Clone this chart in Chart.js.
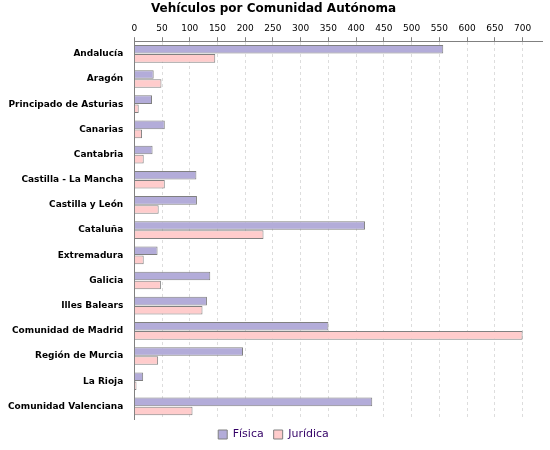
<!DOCTYPE html><html><head><script src="https://cdn.jsdelivr.net/npm/chart.js"></script>
<style>body{margin:0;background:#fff}</style></head><body><canvas id="c" width="550" height="450"></canvas>
<script>
const categories=["Andalucía","Aragón","Principado de Asturias","Canarias","Cantabria","Castilla - La Mancha","Castilla y León","Cataluña","Extremadura","Galicia","Illes Balears","Comunidad de Madrid","Región de Murcia","La Rioja","Comunidad Valenciana"];
const fisica=[557,35,32,55,33,112,113,416,42,137,131,350,196,16,429];
const juridica=[146,49,8,14,17,55,44,233,17,48,123,700,43,4,105];
new Chart(document.getElementById('c'),{type:'bar',data:{labels:categories,datasets:[
{label:'Física',data:fisica,backgroundColor:'#b3acd9',borderColor:'#808080',borderWidth:1},
{label:'Jurídica',data:juridica,backgroundColor:'#ffcccc',borderColor:'#808080',borderWidth:1}]},
options:{indexAxis:'y',responsive:false,animation:false,devicePixelRatio:1,
layout:{padding:{left:5,right:8,top:0,bottom:0}},
datasets:{bar:{categoryPercentage:0.72,barPercentage:0.95}},
plugins:{title:{display:true,text:'Vehículos por Comunidad Autónoma',font:{family:'DejaVu Sans',size:12,weight:'bold'},color:'#000',padding:{top:2,bottom:4}},
legend:{position:'bottom',labels:{boxWidth:9,boxHeight:9,color:'#330066',font:{family:'DejaVu Sans',size:11}}},tooltip:{enabled:false}},
scales:{x:{position:'top',min:0,max:735,afterBuildTicks:a=>{a.ticks=[];for(let v=0;v<=700;v+=50)a.ticks.push({value:v});},
ticks:{autoSkip:false,maxRotation:0,color:'#000',font:{family:'DejaVu Sans',size:9}},
grid:{color:'#dddddd',tickLength:4,tickColor:'#808080'},border:{dash:[3,3],color:'#808080'}},
y:{ticks:{autoSkip:false,color:'#000',font:{family:'DejaVu Sans',size:9,weight:'bold'}},grid:{display:false},border:{color:'#808080'}}}}});
</script></body></html>
